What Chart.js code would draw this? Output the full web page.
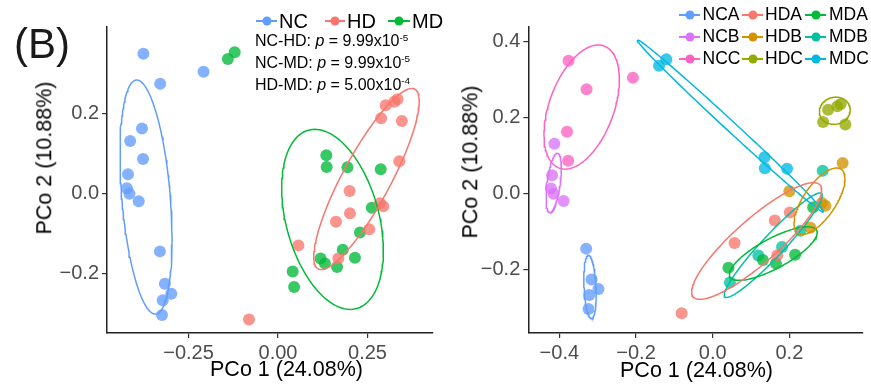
<!DOCTYPE html>
<html><head><meta charset="utf-8">
<script src="https://cdn.jsdelivr.net/npm/chart.js@4"></script>
<style>
body{margin:0;background:#fff;width:871px;height:386px;overflow:hidden;position:relative;font-family:Arial,"Liberation Sans",sans-serif;}
canvas{position:absolute;top:0;}
.t{position:absolute;white-space:nowrap;color:#000;line-height:1;transform:translateY(-50%);}
.rot{position:absolute;white-space:nowrap;color:#000;line-height:1;transform:translate(-50%,-50%) rotate(-90deg);}
.ctr{position:absolute;white-space:nowrap;color:#000;line-height:1;transform:translate(-50%,-50%);}
.ln{position:absolute;height:2px;transform:translateY(-50%);}
.dot{position:absolute;width:9px;height:9px;border-radius:50%;transform:translate(-50%,-50%);}
sup{font-size:0.62em;vertical-align:0;position:relative;top:-0.55em;}
</style></head><body>
<canvas id="c1" width="440" height="386" style="left:0"></canvas>
<canvas id="c2" width="431" height="386" style="left:440px"></canvas>
<div id="ov"></div>
<script>
// ---- data (PCo1, PCo2) per subgroup ----
const NCA_x = [-0.330, -0.316, -0.298, -0.322, -0.324];
const NCA_y = [-0.145, -0.226, -0.251, -0.267, -0.304];
const NCB_x = [-0.413, -0.419, -0.422, -0.415, -0.389];
const NCB_y = [0.131, 0.048, 0.013, -0.001, -0.020];
const NCC_x = [-0.376, -0.329, -0.208, -0.380, -0.377];
const NCC_y = [0.349, 0.274, 0.304, 0.162, 0.086];
const HDA_x = [0.201, 0.162, 0.057, 0.1685, -0.081];
const HDA_y = [-0.050, -0.071, -0.130, -0.1625, -0.315];
const HDB_x = [0.339, 0.200, 0.294, 0.285, 0.255];
const HDB_y = [0.080, 0.006, -0.032, -0.025, -0.090];
const HDC_x = [0.301, 0.325, 0.334, 0.288, 0.346];
const HDC_y = [0.220, 0.229, 0.235, 0.188, 0.181];
const MDA_x = [0.262, 0.215, 0.165, 0.131, 0.041];
const MDA_y = [-0.036, -0.161, -0.184, -0.175, -0.195];
const MDB_x = [0.287, 0.229, 0.181, 0.119, 0.045];
const MDB_y = [0.060, -0.098, -0.141, -0.163, -0.234];
const MDC_x = [-0.140, -0.121, 0.135, 0.136, 0.194];
const MDC_y = [0.336, 0.3525, 0.095, 0.066, 0.065];

// 95% ellipses: [centerX, centerY, axis1X, axis1Y, axis2X, axis2Y]
const ellNC = [-0.3687, -0.0093, -0.0271, 0.2925, 0.0674, 0.005];
const ellHD = [0.2472, 0.0358, 0.135, 0.2245, 0.059, -0.0285];
const ellMD = [0.1523, -0.065, -0.0668, 0.223, 0.1254, 0.030];
const ellNCA = [-0.3201, -0.2458, -0.0039, 0.0832, 0.0157, 0.0008];
const ellNCB = [-0.4148, 0.0279, 0.0104, 0.0782, 0.017, -0.0024];
const ellNCC = [-0.3418, 0.2271, 0.0585, 0.1605, 0.0791, -0.0293];
const ellHDA = [0.1148, -0.125, 0.1654, 0.1471, 0.0379, -0.0434];
const ellHDB = [0.2786, -0.0203, 0.0566, 0.0840, 0.035, -0.024];
const ellHDC = [0.3185, 0.2175, 0.0391, 0.0105, 0.0091, -0.0342];
const ellMDA = [0.158, -0.158, 0.113, 0.0613, 0.0185, -0.0347];
const ellMDB = [0.158, -0.136, 0.1262, 0.136, 0.0209, -0.0198];
const ellMDC = [0.0459, 0.1776, 0.2426, -0.2258, -0.0088, -0.0097];

const leftXTicks = [-0.25, 0, 0.25];
const leftXLabels = ['\u22120.25', '0.00', '0.25'];
const leftYTicks = [-0.2, 0, 0.2];
const leftYLabels = ['\u22120.2', '0.0', '0.2'];
const rightXTicks = [-0.4, -0.2, 0, 0.2];
const rightXLabels = ['\u22120.4', '\u22120.2', '0.0', '0.2'];
const rightYTicks = [-0.2, 0, 0.2, 0.4];
const rightYLabels = ['\u22120.2', '0.0', '0.2', '0.4'];

const leftGroups = ['NC', 'HD', 'MD'];
const leftColors = ['#619CFF', '#F8766D', '#00BA38'];
const rightGroups = ['NCA','NCB','NCC','HDA','HDB','HDC','MDA','MDB','MDC'];
const rightColors = ['#619CFF','#DB72FB','#FF61C3','#F8766D','#D39200','#93AA00','#00BA38','#00C19F','#00B9E3'];
const pTests = ['NC-HD', 'NC-MD', 'HD-MD'];
const pMant = ['9.99', '9.99', '5.00'];
const pExp = ['-5', '-5', '-4'];

// ---- helpers ----
const pts = (xs, ys) => xs.map((x, i) => ({x, y: ys[i]}));
function ellipse(p) {
  const [cx, cy, ax, ay, bx, by] = p; const out = [];
  for (let i = 0; i <= 144; i++) { const t = 2 * Math.PI * i / 144;
    out.push({x: cx + Math.cos(t) * ax + Math.sin(t) * bx, y: cy + Math.cos(t) * ay + Math.sin(t) * by}); }
  return out;
}
function rgba(hex, a) { const n = parseInt(hex.slice(1), 16); return `rgba(${n>>16},${(n>>8)&255},${n&255},${a})`; }
const FONT = 'Arial, "Liberation Sans", sans-serif';
function pointDS(data, col) { return {data, backgroundColor: rgba(col, 0.78), borderWidth: 0, pointRadius: 6, pointHoverRadius: 6, showLine: false, order: 2}; }
function ellDS(p, col) { return {data: ellipse(p), borderColor: col, borderWidth: 1.5, pointRadius: 0, showLine: true, fill: false, tension: 0, order: 1}; }
function axis(min, max, ticks, labels, fitProp, fitVal) {
  return {type: 'linear', min, max,
    afterBuildTicks: s => { s.ticks = ticks.map(v => ({value: v})); },
    afterFit: s => { s[fitProp] = fitVal; },
    ticks: {autoSkip: false, maxRotation: 0, color: '#4D4D4D', padding: 3, font: {size: 20, family: FONT},
      callback: (v, i) => labels[i]},
    grid: {display: true, drawOnChartArea: false, drawTicks: true, tickLength: 5, color: '#333333', lineWidth: 1.2},
    border: {display: true, color: '#222222', width: 1.5}};
}
function opts(xa, ya, pad) {
  return {animation: false, responsive: false, events: [],
    layout: {padding: pad},
    plugins: {legend: {display: false}, tooltip: {enabled: false}},
    scales: {x: xa, y: ya}};
}

// ---- left chart ----
const leftPts = [
  pts(NCA_x.concat(NCB_x, NCC_x), NCA_y.concat(NCB_y, NCC_y)),
  pts(HDA_x.concat(HDB_x, HDC_x), HDA_y.concat(HDB_y, HDC_y)),
  pts(MDA_x.concat(MDB_x, MDC_x), MDA_y.concat(MDB_y, MDC_y))];
const leftEll = [ellNC, ellHD, ellMD];
const ds1 = [];
leftGroups.forEach((g, i) => ds1.push(pointDS(leftPts[i], leftColors[i])));
leftGroups.forEach((g, i) => ds1.push(ellDS(leftEll[i], leftColors[i])));
new Chart(document.getElementById('c1'), {type: 'scatter', data: {datasets: ds1},
  options: opts(axis(-0.4777, 0.433, leftXTicks, leftXLabels, 'height', 53),
                axis(-0.349, 0.4158, leftYTicks, leftYLabels, 'width', 107),
                {left: 0, right: 7, top: 27, bottom: 0})});

// ---- right chart ----
const rightX = [NCA_x, NCB_x, NCC_x, HDA_x, HDB_x, HDC_x, MDA_x, MDB_x, MDC_x];
const rightY = [NCA_y, NCB_y, NCC_y, HDA_y, HDB_y, HDC_y, MDA_y, MDB_y, MDC_y];
const rightEll = [ellNCA, ellNCB, ellNCC, ellHDA, ellHDB, ellHDC, ellMDA, ellMDB, ellMDC];
const ds2 = [];
rightGroups.forEach((g, i) => ds2.push(pointDS(pts(rightX[i], rightY[i]), rightColors[i])));
rightGroups.forEach((g, i) => ds2.push(ellDS(rightEll[i], rightColors[i])));
new Chart(document.getElementById('c2'), {type: 'scatter', data: {datasets: ds2},
  options: opts(axis(-0.481, 0.3913, rightXTicks, rightXLabels, 'height', 53),
                axis(-0.3668, 0.4376, rightYTicks, rightYLabels, 'width', 88.3),
                {left: 0, right: 8.3, top: 27, bottom: 0})});

// ---- text overlays ----
const ov = document.getElementById('ov');
function add(cls, html, css) { const d = document.createElement('div'); d.className = cls; d.innerHTML = html; Object.assign(d.style, css); ov.appendChild(d); return d; }
add('t', '(B)', {left: '14px', top: '44px', fontSize: '42px', color: '#1a1a1a'});
// left legend
const lKey = [[256, 277], [325, 345], [388, 410]];
const lTxt = [279, 347, 412];
leftGroups.forEach((g, i) => {
  add('ln', '', {left: lKey[i][0] + 'px', width: (lKey[i][1] - lKey[i][0]) + 'px', top: '21px', background: leftColors[i]});
  add('dot', '', {left: ((lKey[i][0] + lKey[i][1]) / 2) + 'px', top: '21px', background: leftColors[i]});
  add('t', g, {left: lTxt[i] + 'px', top: '21px', fontSize: '20px'});
});
const pY = [41, 62.5, 84.5];
pTests.forEach((t, i) => add('t', `${t}: <i>p</i> = ${pMant[i]}x10<sup>${pExp[i]}</sup>`, {left: '255px', top: pY[i] + 'px', fontSize: '16px'}));
// right legend (3 columns x 3 rows)
const rKeyX = [679, 742, 805], rTxtX = [702.5, 765, 829], rRowY = [14.5, 37, 58.5];
rightGroups.forEach((g, i) => {
  const c = Math.floor(i / 3), r = i % 3;
  add('ln', '', {left: rKeyX[c] + 'px', width: '21px', top: rRowY[r] + 'px', background: rightColors[i]});
  add('dot', '', {left: (rKeyX[c] + 10.5) + 'px', top: rRowY[r] + 'px', background: rightColors[i]});
  add('t', g, {left: rTxtX[c] + 'px', top: rRowY[r] + 'px', fontSize: '17.5px'});
});
// axis titles
add('ctr', 'PCo 1 (24.08%)', {left: '286.5px', top: '370px', fontSize: '21.5px'});
add('rot', 'PCo 2 (10.88%)', {left: '45px', top: '158px', fontSize: '21.5px'});
add('ctr', 'PCo 1 (24.08%)', {left: '696.5px', top: '371px', fontSize: '21.5px'});
add('rot', 'PCo 2 (10.88%)', {left: '471px', top: '162px', fontSize: '21.5px'});
</script>
</body></html>
